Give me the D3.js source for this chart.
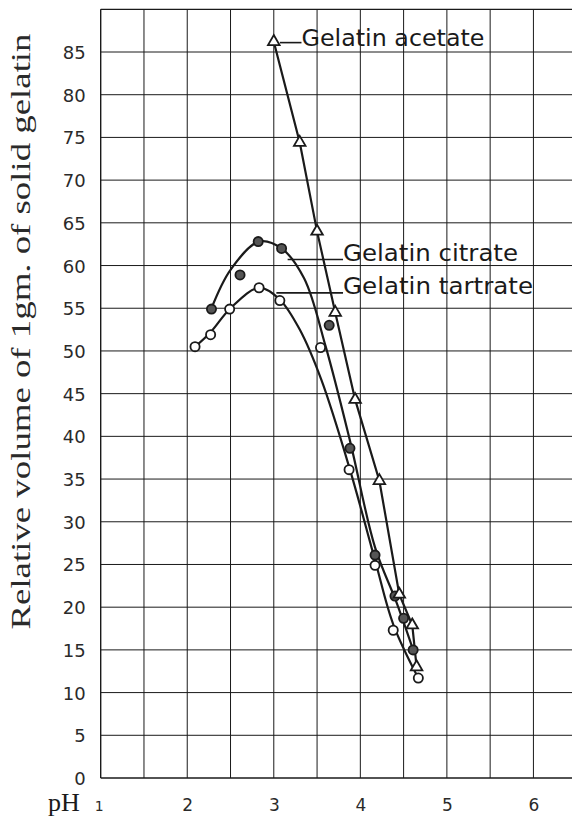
<!DOCTYPE html>
<html>
<head>
<meta charset="utf-8">
<script src="https://cdn.jsdelivr.net/npm/d3@7"></script>
<style>
  html, body { margin: 0; padding: 0; background: #fff; }
  svg { display: block; }
</style>
</head>
<body>
<script>
// ---------- DATA ----------
// Gelatin acetate (open triangles): [pH, relative volume]
const acetatePH  = [3.00, 3.30, 3.50, 3.71, 3.94, 4.22, 4.45, 4.60, 4.65];
const acetateVol = [86.2, 74.4, 64.0, 54.5, 44.3, 34.8, 21.5, 17.9, 13.0];

// Gelatin citrate (hatched circles)
const citratePH  = [2.28, 2.61, 2.82, 3.09, 3.64, 3.88, 4.17, 4.40, 4.50, 4.61];
const citrateVol = [54.9, 58.9, 62.8, 62.0, 53.0, 38.6, 26.1, 21.3, 18.7, 15.0];

// Gelatin tartrate (open circles)
const tartratePH  = [2.09, 2.27, 2.49, 2.83, 3.07, 3.54, 3.87, 4.17, 4.38, 4.67];
const tartrateVol = [50.5, 51.9, 54.9, 57.4, 55.9, 50.4, 36.1, 24.9, 17.3, 11.7];

// Hand-drawn smooth curves through the points
const citrateCurvePH  = [2.28, 2.50, 2.83, 3.09, 3.35, 3.60, 3.88, 4.17, 4.42, 4.61];
const citrateCurveVol = [55.0, 59.5, 62.8, 62.0, 58.5, 50.5, 39.5, 27.0, 20.5, 15.0];
const tartrateCurvePH  = [2.09, 2.27, 2.50, 2.83, 3.07, 3.30, 3.55, 3.88, 4.17, 4.38, 4.67];
const tartrateCurveVol = [50.5, 52.2, 55.0, 57.4, 56.0, 52.5, 46.6, 36.1, 25.5, 18.0, 11.7];

// Axis ticks
const xTickLabels = [1, 2, 3, 4, 5, 6];
const yTickLabels = [0,5,10,15,20,25,30,35,40,45,50,55,60,65,70,75,80,85];

const seriesNames = ["Gelatin acetate", "Gelatin citrate", "Gelatin tartrate"];

// ---------- CHART ----------
const W = 572, H = 818;
const svg = d3.select("body").append("svg").attr("width", W).attr("height", H);

const x = d3.scaleLinear().domain([1, 6.5]).range([100.7, 576.7]);
const y = d3.scaleLinear().domain([0, 90]).range([778, 9.3]);

const ink = "#1a1a1a";
const grid = svg.append("g");

// vertical grid lines every 0.5 pH
d3.range(1.5, 6.51, 0.5).forEach(v => {
  grid.append("line").attr("x1", x(v)).attr("x2", x(v))
    .attr("y1", y(0)).attr("y2", y(90))
    .attr("stroke", ink).attr("stroke-width", 1);
});
// horizontal grid lines every 5
d3.range(5, 90.1, 5).forEach(v => {
  grid.append("line").attr("x1", x(1)).attr("x2", W)
    .attr("y1", y(v)).attr("y2", y(v))
    .attr("stroke", ink).attr("stroke-width", v === 90 ? 1.3 : 1);
});
// axes (left + bottom)
svg.append("line").attr("x1", x(1)).attr("x2", x(1)).attr("y1", y(0)).attr("y2", y(90))
  .attr("stroke", ink).attr("stroke-width", 1.4);
svg.append("line").attr("x1", x(1)).attr("x2", W).attr("y1", y(0)).attr("y2", y(0))
  .attr("stroke", ink).attr("stroke-width", 1.4);

// Y tick labels
const yAxis = d3.axisLeft(y).tickValues(yTickLabels).tickSize(0).tickPadding(15);
const yg = svg.append("g").attr("transform", `translate(${x(1)},0)`).call(yAxis);
yg.select(".domain").remove();
yg.selectAll("text").attr("font-family", "DejaVu Sans, sans-serif")
  .attr("font-size", 18).attr("fill", "#2a2a2a").attr("dy", "0.36em");

// X tick labels
const xAxis = d3.axisBottom(x).tickValues(xTickLabels).tickSize(0).tickFormat(d3.format("d"));
const xg = svg.append("g").attr("transform", `translate(0,${y(0)})`).call(xAxis);
xg.select(".domain").remove();
xg.selectAll("text").attr("font-family", "DejaVu Sans, sans-serif")
  .attr("font-size", 17).attr("fill", "#2a2a2a").attr("y", 33).attr("dy", 0);
xg.selectAll(".tick").filter(d => d === 1).select("text").attr("font-size", 14).attr("dx", -2);

// pH label
svg.append("text").attr("x", 64).attr("y", 811).attr("text-anchor", "middle")
  .attr("font-family", "Liberation Serif, serif").attr("font-size", 26).attr("fill", ink)
  .text("pH");

// Y axis title
svg.append("text")
  .attr("transform", `translate(30,${(33 + 630) / 2}) rotate(-90)`)
  .attr("text-anchor", "middle")
  .attr("font-family", "Liberation Serif, serif").attr("font-size", 27).attr("fill", "#2a2a2a")
  .attr("textLength", 596).attr("lengthAdjust", "spacingAndGlyphs")
  .text("Relative volume of 1gm. of solid gelatin");

// ---------- LINES ----------
const zip = (a, b) => a.map((v, i) => [v, b[i]]);
const lineLinear = d3.line().x(d => x(d[0])).y(d => y(d[1]));
const lineSmooth = d3.line().x(d => x(d[0])).y(d => y(d[1])).curve(d3.curveCatmullRom.alpha(0.5));

svg.append("path").datum(zip(acetatePH, acetateVol)).attr("d", lineLinear)
  .attr("fill", "none").attr("stroke", ink).attr("stroke-width", 2.2);
svg.append("path").datum(zip(citrateCurvePH, citrateCurveVol)).attr("d", lineSmooth)
  .attr("fill", "none").attr("stroke", ink).attr("stroke-width", 2.2);
svg.append("path").datum(zip(tartrateCurvePH, tartrateCurveVol)).attr("d", lineSmooth)
  .attr("fill", "none").attr("stroke", ink).attr("stroke-width", 2.2);

// ---------- MARKERS ----------
svg.append("g").selectAll("circle").data(zip(tartratePH, tartrateVol)).join("circle")
  .attr("cx", d => x(d[0])).attr("cy", d => y(d[1])).attr("r", 4.6)
  .attr("fill", "#fff").attr("stroke", ink).attr("stroke-width", 1.8);

svg.append("g").selectAll("circle").data(zip(citratePH, citrateVol)).join("circle")
  .attr("cx", d => x(d[0])).attr("cy", d => y(d[1])).attr("r", 4.6)
  .attr("fill", "#555").attr("stroke", ink).attr("stroke-width", 1.8);

const tri = d3.symbol().type(d3.symbolTriangle).size(58);
svg.append("g").selectAll("path").data(zip(acetatePH, acetateVol)).join("path")
  .attr("transform", d => `translate(${x(d[0])},${y(d[1])})`).attr("d", tri)
  .attr("fill", "#fff").attr("stroke", ink).attr("stroke-width", 1.8);

// ---------- LABELS ----------
const labels = [
  { name: seriesNames[0], from: 3.07, to: 3.32, lineV: 86.1, textV: 85.7, width: 183 },
  { name: seriesNames[1], from: 3.16, to: 3.80, lineV: 60.7, textV: 60.5, width: 175 },
  { name: seriesNames[2], from: 3.03, to: 3.80, lineV: 56.8, textV: 56.7, width: 190 }
];
labels.forEach(l => {
  svg.append("line").attr("x1", x(l.from)).attr("x2", x(l.to))
    .attr("y1", y(l.lineV)).attr("y2", y(l.lineV))
    .attr("stroke", ink).attr("stroke-width", 1.6);
  svg.append("text").attr("x", x(l.to)).attr("y", y(l.textV))
    .attr("font-family", "DejaVu Sans, sans-serif").attr("font-size", 23).attr("fill", ink)
    .attr("textLength", l.width).attr("lengthAdjust", "spacingAndGlyphs")
    .text(l.name);
});
</script>
</body>
</html>
